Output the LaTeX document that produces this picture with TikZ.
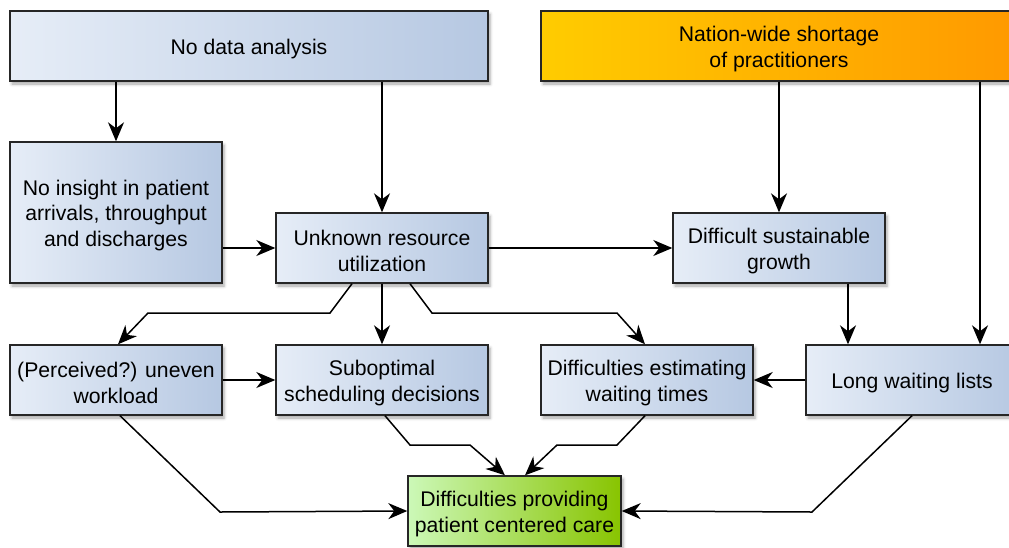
\documentclass[tikz,border=0pt]{standalone}
\usepackage{fontspec}
\setmainfont{Liberation Sans}
\usetikzlibrary{arrows.meta,shadows.blur}
\definecolor{bL}{HTML}{E6EDF7}
\definecolor{bR}{HTML}{B6C8E2}
\definecolor{oL}{HTML}{FFCC00}
\definecolor{oR}{HTML}{FF9900}
\definecolor{gL}{HTML}{CCF8B8}
\definecolor{gR}{HTML}{88C400}
\begin{document}
\begin{tikzpicture}[x=1pt,y=-1pt,
  box/.style={draw=black!85, line width=1.4pt, minimum width=212pt, minimum height=70pt,
    left color=bL, right color=bR, inner sep=0pt,
    blur shadow={shadow xshift=2pt, shadow yshift=-3pt, shadow blur radius=3pt, shadow opacity=35}},
  orangebox/.style={box, left color=oL, right color=oR},
  greenbox/.style={box, left color=gL, right color=gR},
  txt/.style={align=center, inner sep=0pt, yshift=-3pt, font=\fontsize{21.2}{25.5}\selectfont},
  arr/.style={-{Stealth[length=19pt,width=16pt,inset=6pt]}, line width=1.5pt}]
\useasboundingbox (0,0) rectangle (1009,547);
\clip (0,0) rectangle (1009,547);

\node[box, minimum width=478pt] (nodata) at (249,46) {};
\node[orangebox, minimum width=476pt] (nation) at (779,46) {};
\node[box, minimum height=141pt] (insight) at (116,212.5) {};
\node[box] (unknown) at (382,248) {};
\node[box] (growth) at (779,248) {};
\node[box] (workload) at (116,380) {};
\node[box] (subopt) at (382,380) {};
\node[box] (estim) at (647,380) {};
\node[box] (long) at (912,380) {};
\node[greenbox, minimum width=213pt] (care) at (514.5,511) {};

\node[txt] (tnodata) at (nodata) {No data analysis};
\node[txt] (tnation) at (nation) {Nation-wide shortage\\of practitioners};
\node[txt] (tinsight) at (insight) {No insight in patient\\arrivals, throughput\\and discharges};
\node[txt] (tunknown) at (unknown) {Unknown resource\\utilization};
\node[txt] (tgrowth) at (growth) {Difficult sustainable\\growth};
\node[txt] (tworkload) at (workload) {(Perceived?) uneven\\workload};
\node[txt] (tsubopt) at (subopt) {Suboptimal\\scheduling decisions};
\node[txt] (testim) at (estim) {Difficulties estimating\\waiting times};
\node[txt] (tlong) at (long) {Long waiting lists};
\node[txt] (tcare) at (care) {Difficulties providing\\patient centered care};

\draw[arr] (nodata.south -| insight.north) -- (insight.north);
\draw[arr] (nodata.south -| unknown.north) -- (unknown.north);
\draw[arr] (nation.south -| growth.north) -- (growth.north);
\draw[arr] (nation.south -| 980,0) -- (long.north -| 980,0);
\draw[arr] (insight.east |- unknown.west) -- (unknown.west);
\draw[arr] (unknown.east) -- (growth.west);
\draw[arr] ([xshift=-30pt]unknown.south) -- (330,313) -- (148,313) -- ([xshift=2pt]workload.north);
\draw[arr] (unknown.south) -- (subopt.north);
\draw[arr] ([xshift=28pt]unknown.south) -- (432,313) -- (617,313) -- ([xshift=-2pt]estim.north);
\draw[arr] (workload.east) -- (subopt.west);
\draw[arr] (long.west) -- (estim.east);
\draw[arr] (growth.south -| 848,0) -- (long.north -| 848,0);
\draw[arr] ([xshift=4pt]workload.south) -- (220,512) -- (care.west);
\draw[arr] ([xshift=3pt]subopt.south) -- (410,445) -- (470,445) -- ([xshift=-9.5pt]care.north);
\draw[arr] ([xshift=-2pt]estim.south) -- (617,445) -- (557,445) -- ([xshift=10.5pt]care.north);
\draw[arr] (long.south) -- (812,512) -- (care.east);
\end{tikzpicture}
\end{document}
